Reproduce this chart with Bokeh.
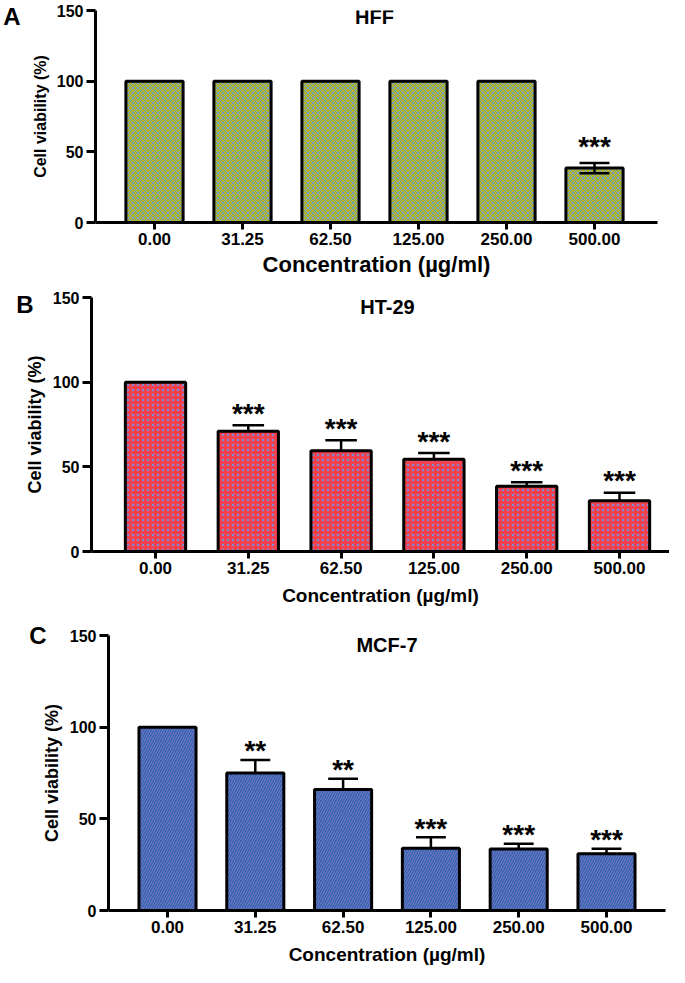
from bokeh.plotting import figure
from bokeh.models import FixedTicker, Label, Range1d, ColumnDataSource, LinearAxis
from bokeh.embed import file_html
from bokeh.resources import INLINE

concentrations = ["0.00", "31.25", "62.50", "125.00", "250.00", "500.00"]

hff_mean = [100, 100, 100, 100, 100, 38.5]
hff_sd = [0, 0, 0, 0, 0, 3.6]
hff_sig = ["", "", "", "", "", "***"]

ht29_mean = [100, 71, 59.5, 54.5, 38.5, 30]
ht29_sd = [0, 3.6, 6.2, 3.6, 2.4, 4.7]
ht29_sig = ["", "***", "***", "***", "***", "***"]

mcf7_mean = [100, 75, 66, 34, 33.5, 31]
mcf7_sd = [0, 7.1, 5.9, 6.0, 2.9, 2.7]
mcf7_sig = ["", "**", "**", "***", "***", "***"]

y_ticks = [0, 50, 100, 150]
FONT = "Liberation Sans"
W = 669


def panel(letter, letter_tick, title, means, sds, sigs, both_err, style, g):
    xs = list(range(len(concentrations)))
    ppx = g["spacing"]
    xs_start = (g["fl"] - g["x0"]) / ppx
    xs_end = (g["fr"] - g["x0"]) / ppx
    ppy = (g["fb"] - g["ft"]) / 150.0
    p = figure(width=W, height=g["h"], output_backend="svg", toolbar_location=None,
               x_range=Range1d(xs_start, xs_end), y_range=Range1d(0, 150),
               min_border_left=g["fl"], min_border_right=W - g["fr"],
               min_border_top=g["ft"], min_border_bottom=g["h"] - g["fb"])
    p.outline_line_color = None
    p.grid.visible = False
    p.background_fill_color = "white"
    p.border_fill_color = "white"

    p.vbar(x=xs, top=means, bottom=0, width=0.65,
           fill_color=style["fill"], hatch_pattern=style["hatch"],
           hatch_color=style["hatch_color"], hatch_scale=style["hatch_scale"],
           hatch_weight=style["hatch_weight"], line_color="black", line_width=3)

    e = [i for i, s in enumerate(sds) if s > 0]
    ex = [xs[i] for i in e]
    hi = [means[i] + sds[i] for i in e]
    lo = [means[i] - sds[i] if both_err else means[i] for i in e]
    cl = [xs[i] - 0.17 for i in e]
    cr = [xs[i] + 0.17 for i in e]
    esrc = ColumnDataSource(dict(x=ex, lo=lo, hi=hi, cl=cl, cr=cr, sig=[sigs[i] for i in e]))
    p.segment(x0="x", y0="lo", x1="x", y1="hi", source=esrc, line_color="black", line_width=2.5)
    p.segment(x0="cl", y0="hi", x1="cr", y1="hi", source=esrc, line_color="black", line_width=2.5)
    if both_err:
        p.segment(x0="cl", y0="lo", x1="cr", y1="lo", source=esrc, line_color="black", line_width=2.5)
    p.text(x="x", y="hi", text="sig", source=esrc, text_align="center", text_baseline="alphabetic",
           text_font_size="28px", text_font_style="bold", text_color="black",
           y_offset=-g["star_gap"])

    p.add_layout(Label(x=2.5, y=150 - (g["title_y"] - g["ft"]) / ppy, text=title,
                       text_align="center", text_baseline="middle", text_font_size="20px",
                       text_font_style="bold", text_font=FONT, text_color="black"))

    xa = p.xaxis[0]
    xa.ticker = FixedTicker(ticks=xs)
    xa.major_label_overrides = {i: c for i, c in enumerate(concentrations)}
    xa.axis_label = "Concentration (µg/ml)"
    xa.axis_label_text_font_size = g["xt_fs"]
    xa.axis_label_text_font_style = "bold"
    xa.axis_label_text_font = FONT
    xa.axis_label_text_color = "black"
    xa.axis_label_standoff = g["xt_stand"]
    xa.major_label_text_font_size = "17px"
    xa.major_label_text_font_style = "bold"
    xa.major_label_text_font = FONT
    xa.major_label_text_color = "black"
    xa.major_label_standoff = 3
    xa.major_tick_out = 7
    xa.major_tick_in = 0
    xa.minor_tick_out = 0
    xa.minor_tick_in = 0
    xa.axis_line_width = 3
    xa.major_tick_line_width = 3

    ya = p.yaxis[0]
    ya.ticker = FixedTicker(ticks=y_ticks)
    ya.axis_label = "Cell viability (%)"
    ya.axis_label_text_font_size = g["yt_fs"]
    ya.axis_label_text_font_style = "bold"
    ya.axis_label_text_font = FONT
    ya.axis_label_text_color = "black"
    ya.axis_label_standoff = 5
    ya.major_label_text_font_size = "16px"
    ya.major_label_text_font_style = "bold"
    ya.major_label_text_font = FONT
    ya.major_label_text_color = "black"
    ya.major_label_standoff = 3
    ya.major_tick_out = 9
    ya.major_tick_in = 0
    ya.minor_tick_out = 0
    ya.minor_tick_in = 0
    ya.axis_line_width = 3
    ya.major_tick_line_width = 3

    # panel letter, as the single tick label of an outer, line-less axis
    la = LinearAxis(ticker=FixedTicker(ticks=[letter_tick]),
                    major_label_overrides={letter_tick: letter},
                    major_label_text_font_size="24px", major_label_text_font_style="bold",
                    major_label_text_font=FONT, major_label_text_color="black",
                    major_label_standoff=g["letter_stand"],
                    axis_line_color=None, major_tick_line_color=None, minor_tick_line_color=None,
                    major_tick_out=0, major_tick_in=0, minor_tick_out=0, minor_tick_in=0)
    p.add_layout(la, "left")
    return p


style_a = dict(fill="#b3b424", hatch="x", hatch_color="#6e9fcf", hatch_scale=5, hatch_weight=1.0)
style_b = dict(fill="#f3404a", hatch=".", hatch_color="#7f8ad6", hatch_scale=5, hatch_weight=0.6)
style_c = dict(fill="#2c63aa", hatch="/", hatch_color="#9e7ed6", hatch_scale=5, hatch_weight=0.8)

ga = dict(h=282, fl=95, fr=657, ft=10, fb=222, x0=154, spacing=88.0, title_y=16,
          xt_fs="22px", xt_stand=4, yt_fs="16px", star_gap=16, letter_stand=8)
gb = dict(h=338, fl=91, fr=669, ft=15, fb=269, x0=155, spacing=92.8, title_y=24,
          xt_fs="19px", xt_stand=8, yt_fs="18px", star_gap=12, letter_stand=-12)
gc = dict(h=347, fl=108, fr=665, ft=15, fb=290, x0=167, spacing=87.8, title_y=24,
          xt_fs="19px", xt_stand=8, yt_fs="18px", star_gap=9, letter_stand=-8)

pa = panel("A", 146, "HFF", hff_mean, hff_sd, hff_sig, True, style_a, ga)
pb = panel("B", 146, "HT-29", ht29_mean, ht29_sd, ht29_sig, False, style_b, gb)
pc = panel("C", 150, "MCF-7", mcf7_mean, mcf7_sd, mcf7_sig, False, style_c, gc)

open("out.html", "w").write(file_html([pa, pb, pc], INLINE))
